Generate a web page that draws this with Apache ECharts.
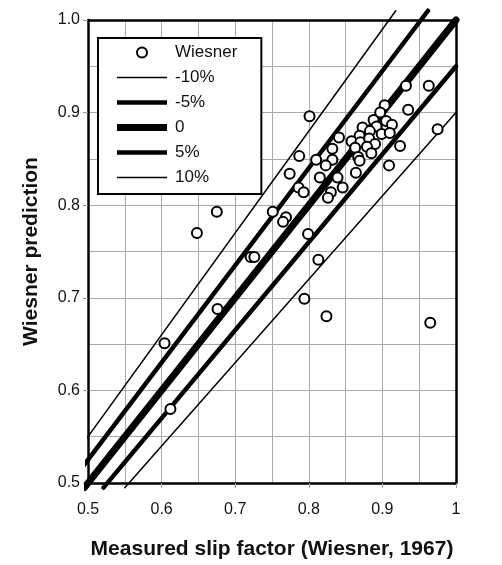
<!DOCTYPE html>
<html lang="en">

<head>
    <meta charset="UTF-8">
    <title>Wiesner slip factor</title>
    <style>
        html,
        body,
        #chart {
            margin: 0;
            padding: 0;
            overflow: hidden;
            width: 100%;
            height: 100%;
            background: #fff;
        }
    </style>
</head>

<body>
    <div id="chart"></div>
    <script src="https://cdn.jsdelivr.net/npm/echarts@6/dist/echarts.min.js"></script>
    <script>
        // measured slip factor (x) vs Wiesner prediction (y)
        var measured = [
            0.903, 0.897, 0.935, 0.888, 0.905, 0.913, 0.892, 0.873, 0.883, 0.899,
            0.910, 0.869, 0.841, 0.858, 0.870, 0.882, 0.890, 0.879, 0.924, 0.832,
            0.863, 0.885, 0.810, 0.832, 0.867, 0.869, 0.823, 0.909, 0.864, 0.815,
            0.839, 0.846, 0.830, 0.826,
            0.932, 0.963, 0.801, 0.975, 0.787, 0.774, 0.786, 0.793,
            0.751, 0.769, 0.765, 0.799, 0.813, 0.794, 0.824, 0.965,
            0.675, 0.648, 0.721, 0.726, 0.676, 0.604, 0.612
        ];
        var predicted = [
            0.908, 0.900, 0.903, 0.892, 0.891, 0.887, 0.885, 0.884, 0.880, 0.877,
            0.878, 0.875, 0.873, 0.869, 0.868, 0.872, 0.866, 0.863, 0.864, 0.861,
            0.862, 0.856, 0.849, 0.849, 0.852, 0.848, 0.843, 0.843, 0.835, 0.830,
            0.830, 0.819, 0.814, 0.808,
            0.929, 0.929, 0.896, 0.882, 0.853, 0.834, 0.819, 0.814,
            0.793, 0.787, 0.782, 0.769, 0.741, 0.699, 0.680, 0.673,
            0.793, 0.770, 0.744, 0.744, 0.688, 0.651, 0.580
        ];

        // reference lines y = k * x
        var lineNames = ['-10%', '-5%', '0', '5%', '10%'];
        var lineFactors = [0.9, 0.95, 1.0, 1.05, 1.1];
        var lineWidths = [1.5, 4.5, 7, 4.5, 1.5];

        var font = '"Liberation Sans", Arial, Helvetica, sans-serif';

        var points = measured.map(function (x, i) { return [x, predicted[i]]; });

        var series = [];
        lineFactors.forEach(function (k, i) {
            var x0 = Math.max(0.49, 0.495 / k);
            var x1 = Math.min(1.0, 1.01 / k);
            series.push({
                name: lineNames[i],
                type: 'line',
                data: [[x0, k * x0], [x1, k * x1]],
                symbol: 'none',
                clip: false,
                silent: true,
                z: 3,
                itemStyle: { color: '#000' },
                lineStyle: { color: '#000', width: lineWidths[i], cap: 'round' }
            });
        });
        series.unshift({
            name: 'Wiesner',
            type: 'scatter',
            data: points,
            symbol: 'circle',
            symbolSize: 10,
            z: 5,
            itemStyle: { color: '#fff', borderColor: '#000', borderWidth: 2, opacity: 1 }
        });

        function linePath(w) {
            return 'path://M0,0L50,0L50,' + w + 'L0,' + w + 'Z';
        }

        var legendData = [{ name: 'Wiesner', icon: 'emptyCircle', itemStyle: { color: '#000', borderWidth: 0 } }];
        lineNames.forEach(function (n, i) {
            legendData.push({ name: n, icon: linePath(lineWidths[i]), itemStyle: { color: '#000', borderWidth: 0 } });
        });

        var axisLabelStyle = { color: '#111', fontSize: 16, fontFamily: font };

        var chart = echarts.init(document.getElementById('chart'));
        chart.setOption({
            animation: false,
            backgroundColor: '#fff',
            grid: { left: 88, right: 46, top: 20, bottom: 80 },
            legend: {
                orient: 'vertical',
                left: 98,
                top: 38,
                data: legendData,
                itemWidth: 50,
                itemHeight: 10,
                itemGap: 8,
                padding: [6, 24, 8, 19],
                backgroundColor: '#fff',
                borderColor: '#000',
                borderWidth: 2,
                borderRadius: 0,
                selectedMode: false,
                textStyle: { color: '#111', fontSize: 17, lineHeight: 17, fontFamily: font, padding: [0, 0, 0, 3] }
            },
            xAxis: [{
                type: 'value',
                min: 0.5,
                max: 1,
                interval: 0.1,
                name: 'Measured slip factor (Wiesner, 1967)',
                nameLocation: 'middle',
                nameGap: 56,
                nameTextStyle: { color: '#111', fontSize: 21, fontWeight: 'bold', fontFamily: font },
                axisLine: { onZero: false, lineStyle: { color: '#000', width: 2.5 } },
                axisTick: { show: true, length: 5, lineStyle: { color: '#999' } },
                minorTick: { show: false, splitNumber: 2 },
                splitLine: { show: true, lineStyle: { color: '#aaa', width: 1 } },
                minorSplitLine: { show: true, lineStyle: { color: '#aaa', width: 1 } },
                axisLabel: Object.assign({
                    margin: 19,
                    formatter: function (v) { return Math.abs(v - 1) < 1e-9 ? '1' : v.toFixed(1); }
                }, axisLabelStyle)
            }, {
                type: 'value',
                position: 'top',
                min: 0.5,
                max: 1,
                axisLine: { onZero: false, lineStyle: { color: '#000', width: 2.5 } },
                axisTick: { show: false },
                axisLabel: { show: false },
                splitLine: { show: false }
            }],
            yAxis: [{
                type: 'value',
                min: 0.5,
                max: 1,
                interval: 0.1,
                name: 'Wiesner prediction',
                nameLocation: 'middle',
                nameGap: 46,
                nameTextStyle: { color: '#111', fontSize: 21, fontWeight: 'bold', fontFamily: font },
                axisLine: { onZero: false, lineStyle: { color: '#000', width: 2.5 } },
                axisTick: { show: true, length: 5, lineStyle: { color: '#999' } },
                minorTick: { show: false, splitNumber: 2 },
                splitLine: { show: true, lineStyle: { color: '#aaa', width: 1 } },
                minorSplitLine: { show: true, lineStyle: { color: '#aaa', width: 1 } },
                axisLabel: Object.assign({
                    margin: 8,
                    formatter: function (v) { return v.toFixed(1); }
                }, axisLabelStyle)
            }, {
                type: 'value',
                position: 'right',
                min: 0.5,
                max: 1,
                axisLine: { onZero: false, lineStyle: { color: '#000', width: 2.5 } },
                axisTick: { show: false },
                axisLabel: { show: false },
                splitLine: { show: false }
            }],
            series: series
        });
    </script>
</body>

</html>
